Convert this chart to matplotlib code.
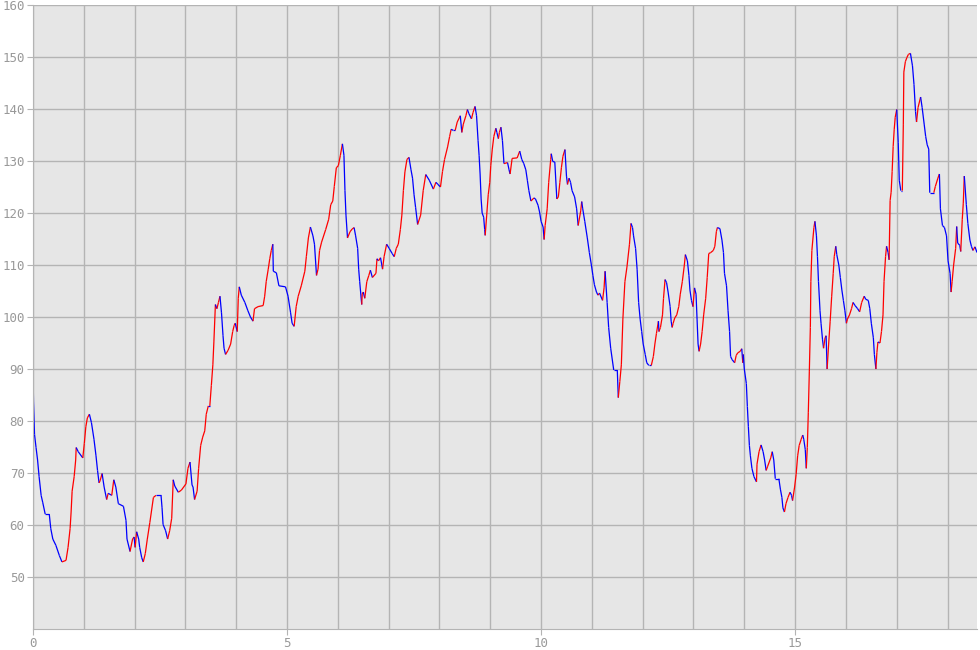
import numpy as np
import matplotlib
matplotlib.use("Agg")
import matplotlib.pyplot as plt
from matplotlib.collections import LineCollection

# turning points (x, value)
xs = [0.00, 0.01, 0.03, 0.06, 0.09, 0.12, 0.16, 0.19, 0.24, 0.32, 0.35, 0.39, 0.45, 0.52, 0.57,
      0.65, 0.69, 0.73, 0.75, 0.77, 0.81, 0.84, 0.85, 0.89, 0.98, 1.01, 1.04, 1.07, 1.11, 1.15,
      1.20, 1.24, 1.27, 1.30, 1.32, 1.36, 1.40, 1.45, 1.48, 1.55, 1.59, 1.63, 1.68, 1.78, 1.83,
      1.85, 1.91, 1.96, 1.99, 2.01, 2.04, 2.08, 2.10, 2.14, 2.17, 2.21, 2.25, 2.30, 2.37, 2.42,
      2.52, 2.54, 2.56, 2.61, 2.65, 2.69, 2.73, 2.76, 2.79, 2.86, 2.92, 3.01, 3.05, 3.09, 3.13,
      3.15, 3.18, 3.23, 3.26, 3.30, 3.34, 3.38, 3.41, 3.45, 3.48, 3.51, 3.54, 3.56, 3.58, 3.59,
      3.62, 3.65, 3.68, 3.71, 3.74, 3.76, 3.79, 3.84, 3.89, 3.93, 3.96, 3.98, 4.02, 4.04, 4.06,
      4.10, 4.17, 4.23, 4.28, 4.33, 4.36, 4.43, 4.53, 4.56, 4.59, 4.63, 4.66, 4.69, 4.72, 4.73,
      4.79, 4.84, 4.97, 5.02, 5.07, 5.10, 5.14, 5.18, 5.22, 5.28, 5.35, 5.38, 5.42, 5.46, 5.51,
      5.54, 5.58, 5.61, 5.64, 5.68, 5.76, 5.82, 5.86, 5.90, 5.93, 5.97, 6.01, 6.05, 6.09, 6.12,
      6.14, 6.16, 6.19, 6.24, 6.28, 6.32, 6.35, 6.39, 6.41, 6.43, 6.47, 6.48, 6.50, 6.53, 6.57,
      6.61, 6.64, 6.68, 6.75, 6.77, 6.80, 6.84, 6.88, 6.91, 6.96, 7.01, 7.07, 7.11, 7.15, 7.19,
      7.23, 7.26, 7.29, 7.32, 7.36, 7.40, 7.44, 7.47, 7.50, 7.53, 7.57, 7.63, 7.68, 7.73, 7.80,
      7.88, 7.93, 7.97, 8.02, 8.06, 8.10, 8.16, 8.20, 8.23, 8.27, 8.31, 8.35, 8.39, 8.41, 8.44,
      8.47, 8.52, 8.55, 8.58, 8.63, 8.66, 8.70, 8.73, 8.76, 8.78, 8.80, 8.82, 8.84, 8.87, 8.89,
      8.90, 8.93, 8.96, 8.99, 9.01, 9.04, 9.07, 9.11, 9.13, 9.16, 9.18, 9.21, 9.24, 9.27, 9.34,
      9.37, 9.39, 9.43, 9.53, 9.58, 9.62, 9.66, 9.70, 9.73, 9.76, 9.80, 9.86, 9.89, 9.94, 9.97,
      10.00, 10.04, 10.06, 10.08, 10.12, 10.15, 10.19, 10.20, 10.23, 10.27, 10.31, 10.34, 10.37, 10.40, 10.43,
      10.47, 10.50, 10.52, 10.55, 10.58, 10.61, 10.66, 10.70, 10.73, 10.78, 10.80, 10.82, 10.86, 10.91, 10.95,
      10.99, 11.02, 11.05, 11.09, 11.12, 11.15, 11.21, 11.24, 11.26, 11.30, 11.33, 11.37, 11.43, 11.50, 11.52,
      11.55, 11.58, 11.61, 11.65, 11.69, 11.74, 11.77, 11.80, 11.82, 11.86, 11.89, 11.92, 11.95, 11.98, 12.01,
      12.05, 12.08, 12.12, 12.17, 12.21, 12.24, 12.27, 12.31, 12.32, 12.35, 12.39, 12.41, 12.44, 12.47, 12.50,
      12.54, 12.56, 12.58, 12.60, 12.63, 12.67, 12.71, 12.74, 12.78, 12.82, 12.84, 12.88, 12.91, 12.93, 12.96,
      12.99, 13.02, 13.05, 13.07, 13.09, 13.11, 13.14, 13.17, 13.20, 13.24, 13.27, 13.30, 13.34, 13.39, 13.42,
      13.45, 13.47, 13.52, 13.56, 13.59, 13.61, 13.65, 13.68, 13.71, 13.73, 13.76, 13.81, 13.84, 13.87, 13.92,
      13.95, 13.97, 13.98, 14.00, 14.04, 14.06, 14.08, 14.10, 14.12, 14.15, 14.19, 14.24, 14.25, 14.29, 14.33,
      14.37, 14.40, 14.43, 14.46, 14.52, 14.55, 14.58, 14.61, 14.68, 14.71, 14.74, 14.76, 14.79, 14.82, 14.86,
      14.90, 14.93, 14.95, 14.99, 15.02, 15.05, 15.08, 15.12, 15.15, 15.17, 15.20, 15.22, 15.24, 15.26, 15.28,
      15.30, 15.31, 15.33, 15.37, 15.39, 15.42, 15.44, 15.46, 15.49, 15.51, 15.54, 15.56, 15.59, 15.61, 15.63,
      15.66, 15.69, 15.72, 15.75, 15.77, 15.80, 15.82, 15.86, 15.89, 15.92, 15.95, 15.98, 16.01, 16.03, 16.07,
      16.11, 16.14, 16.18, 16.23, 16.27, 16.31, 16.36, 16.39, 16.44, 16.47, 16.50, 16.54, 16.56, 16.59, 16.61,
      16.63, 16.67, 16.70, 16.73, 16.75, 16.78, 16.80, 16.83, 16.85, 16.87, 16.89, 16.91, 16.93, 16.95, 16.97,
      17.00, 17.03, 17.05, 17.08, 17.11, 17.13, 17.14, 17.17, 17.20, 17.23, 17.27, 17.31, 17.34, 17.37, 17.39,
      17.42, 17.47, 17.50, 17.54, 17.57, 17.60, 17.63, 17.65, 17.73, 17.76, 17.81, 17.84, 17.86, 17.90, 17.94,
      17.98, 18.01, 18.05, 18.07, 18.09, 18.12, 18.16, 18.18, 18.20, 18.24, 18.26, 18.29, 18.31, 18.33, 18.37,
      18.40, 18.44, 18.47, 18.50, 18.54, 18.58]
values = [90.0, 83.7, 77.4, 74.9, 72.5, 69.3, 65.7, 64.4, 62.1, 62.1, 59.3, 57.3, 56.1, 54.1, 52.9,
          53.2, 55.7, 59.3, 62.5, 66.5, 69.3, 72.5, 74.9, 74.1, 72.9, 75.7, 78.9, 80.6, 81.3, 79.7,
          76.5, 73.3, 70.5, 68.1, 68.5, 69.9, 67.3, 64.9, 66.1, 65.7, 68.7, 67.3, 64.1, 63.6, 60.9,
          57.3, 54.9, 57.3, 57.7, 55.7, 58.7, 57.3, 55.7, 53.7, 52.9, 54.5, 57.3, 60.5, 65.3, 65.7,
          65.7, 63.3, 60.1, 58.9, 57.3, 58.9, 61.3, 68.7, 67.5, 66.3, 66.7, 67.9, 70.9, 72.1, 67.7,
          67.3, 64.9, 66.5, 70.9, 75.3, 76.9, 78.1, 81.3, 82.9, 82.9, 86.8, 90.8, 95.2, 100.0, 102.4,
          101.6, 102.8, 104.0, 100.8, 96.4, 94.0, 92.8, 93.6, 94.8, 97.2, 98.4, 98.8, 97.2, 103.6, 105.8,
          104.2, 102.8, 101.2, 100.0, 99.2, 101.6, 102.0, 102.2, 104.0, 106.8, 109.2, 111.2, 112.8, 114.0, 108.8,
          108.5, 106.0, 105.8, 104.0, 100.8, 98.8, 98.2, 102.0, 104.0, 106.0, 108.8, 111.6, 115.2, 117.3, 115.6,
          114.0, 108.0, 109.2, 112.8, 114.4, 116.8, 118.8, 121.6, 122.3, 125.1, 128.7, 129.1, 131.1, 133.3, 131.1,
          124.3, 119.6, 115.2, 116.4, 116.9, 117.2, 115.6, 113.2, 109.2, 106.8, 102.4, 104.4, 104.8, 103.6, 106.8,
          108.0, 109.0, 107.6, 108.4, 111.2, 110.8, 111.4, 109.2, 111.6, 114.0, 113.2, 112.2, 111.6, 113.2, 114.0,
          116.8, 119.6, 124.3, 127.9, 130.3, 130.7, 128.3, 126.7, 123.5, 121.1, 117.8, 119.6, 124.3, 127.4, 126.3,
          124.6, 125.9, 125.5, 125.0, 128.0, 130.3, 132.7, 134.7, 136.1, 135.9, 135.9, 137.5, 138.3, 138.7, 135.5,
          137.1, 138.7, 139.9, 139.1, 138.1, 139.3, 140.5, 138.7, 133.9, 131.1, 127.5, 122.7, 120.0, 119.2, 116.8,
          115.7, 119.6, 123.5, 125.9, 129.1, 132.3, 134.7, 136.3, 135.5, 134.3, 135.5, 136.5, 133.9, 129.5, 129.7,
          128.3, 127.5, 130.5, 130.6, 131.9, 130.3, 129.5, 128.3, 126.3, 124.3, 122.3, 122.9, 122.7, 121.5, 120.2,
          118.4, 117.3, 114.9, 117.6, 120.8, 125.9, 130.3, 131.4, 129.9, 129.8, 122.7, 123.1, 125.9, 128.7, 130.9,
          132.2, 127.1, 125.5, 126.7, 125.9, 124.3, 123.1, 120.8, 117.6, 120.4, 122.2, 120.8, 118.4, 115.2, 112.4,
          110.0, 108.0, 106.2, 104.8, 104.2, 104.6, 103.2, 105.6, 108.8, 102.8, 98.0, 94.0, 89.8, 89.8, 84.5,
          87.6, 90.8, 99.6, 106.8, 109.6, 114.0, 118.0, 117.2, 115.6, 113.2, 109.2, 102.8, 99.6, 97.2, 94.8,
          92.8, 91.2, 90.7, 90.7, 92.4, 94.8, 96.8, 99.2, 97.2, 98.0, 100.4, 103.6, 107.2, 106.6, 104.8,
          102.0, 99.2, 98.0, 98.8, 99.8, 100.4, 102.0, 104.4, 106.8, 110.0, 112.0, 110.8, 108.0, 105.2, 103.2,
          102.0, 105.6, 104.4, 99.6, 94.8, 93.4, 94.8, 97.2, 100.4, 103.6, 107.6, 112.2, 112.4, 112.8, 113.6,
          116.4, 117.2, 117.0, 114.8, 112.4, 108.4, 106.0, 101.2, 97.2, 92.4, 91.8, 91.2, 92.6, 93.1, 93.4,
          93.9, 91.2, 92.8, 90.0, 87.2, 82.8, 78.9, 75.3, 73.3, 70.9, 69.3, 68.3, 71.7, 74.1, 75.4,
          74.1, 72.5, 70.5, 71.3, 72.9, 74.1, 72.5, 68.9, 68.9, 66.9, 65.3, 63.3, 62.5, 64.1, 65.3,
          66.3, 65.7, 64.7, 67.3, 69.7, 73.3, 75.3, 76.5, 77.3, 76.5, 74.5, 70.9, 74.9, 81.7, 89.6,
          98.0, 106.8, 112.8, 117.2, 118.4, 115.6, 111.6, 106.8, 101.2, 98.8, 95.6, 94.0, 96.0, 96.4, 90.0,
          94.8, 99.2, 104.0, 108.4, 111.6, 113.6, 112.0, 110.0, 107.6, 105.2, 103.2, 101.2, 98.8, 99.6, 100.4,
          101.6, 102.8, 102.2, 101.6, 101.0, 102.8, 104.0, 103.4, 103.2, 101.6, 98.8, 96.0, 92.8, 90.0, 93.2,
          95.2, 95.0, 97.2, 100.4, 106.8, 111.6, 113.6, 112.4, 111.0, 122.4, 124.0, 128.0, 132.8, 136.0, 138.4,
          139.9, 133.5, 126.3, 124.3, 124.3, 137.1, 147.1, 149.1, 149.9, 150.5, 150.7, 148.3, 144.7, 139.5, 137.5,
          140.3, 142.3, 140.3, 137.1, 134.7, 133.1, 132.3, 123.9, 123.9, 125.1, 126.7, 127.5, 120.8, 117.6, 117.2,
          115.6, 110.8, 108.4, 104.8, 106.8, 110.0, 113.2, 117.4, 114.2, 113.8, 112.6, 118.8, 121.9, 127.1, 121.6,
          118.0, 114.8, 113.6, 112.8, 113.5, 112.4]

x = np.array(xs)
y = np.array(values)

fig = plt.figure(figsize=(9.8, 6.5), dpi=100)
ax = fig.add_axes([33 / 980, 1 - 629 / 650, 944 / 980, 624 / 650])
ax.set_facecolor('#e6e6e6')

# red where the series rises, blue where it falls or stays flat
pts = np.column_stack([x, y]).reshape(-1, 1, 2)
segs = np.concatenate([pts[:-1], pts[1:]], axis=1)
cols = ['#ff0000' if d > 0 else '#0000ff' for d in np.diff(y)]
lc = LineCollection(segs, colors=cols, linewidths=0.9)
ax.add_collection(lc)

ax.set_xlim(0, x[-1])
ax.set_ylim(40, 160)
ax.set_xticks([0, 5, 10, 15])
ax.set_xticks(np.arange(0, 19), minor=True)
ax.set_yticks(np.arange(50, 161, 10))
ax.grid(True, which='both', axis='x', color='#b4b4b4', linewidth=1)
ax.grid(True, which='major', axis='y', color='#b4b4b4', linewidth=1)
ax.set_axisbelow(True)
ax.tick_params(which='minor', length=0)
ax.tick_params(which='major', length=4, color='#b4b4b4', labelcolor='#999999',
               labelsize=9, pad=2)
for lab in ax.get_xticklabels() + ax.get_yticklabels():
    lab.set_family('DejaVu Sans Mono')
for s in ['top', 'right']:
    ax.spines[s].set_visible(False)
for s in ['left', 'bottom']:
    ax.spines[s].set_color('#b4b4b4')

fig.savefig('out.png', dpi=100)
